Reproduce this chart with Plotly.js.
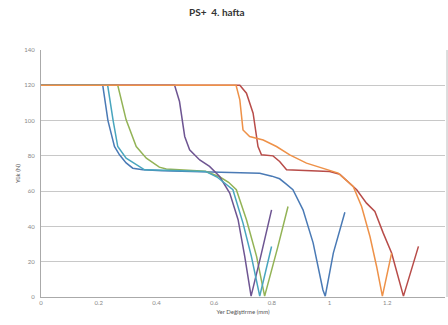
<!DOCTYPE html>
<html>
<head>
<meta charset="utf-8">
<script src="https://cdn.plot.ly/plotly-3.0.1.min.js"></script>
<style>
  html, body { margin: 0; padding: 0; background: #fff; }
  #chart { width: 448px; height: 325px; }
</style>
</head>
<body>
<div id="chart"></div>
<script>
// Load vs. displacement curves, one per specimen
const xBlue   = [0, 0.214, 0.232, 0.2545, 0.272, 0.295, 0.318, 0.353, 0.42, 0.5, 0.6, 0.7, 0.758, 0.8, 0.827, 0.85, 0.873, 0.908, 0.943, 0.977, 0.985, 1.013, 1.053];
const yBlue   = [120, 120, 100, 85.3, 80.6, 76, 73, 72.1, 71.6, 71.2, 71, 70.6, 70.2, 68.5, 67, 64, 60.8, 49.4, 30.7, 4, 0.5, 24.9, 48];

const xRed    = [0, 0.689, 0.712, 0.735, 0.752, 0.764, 0.804, 0.827, 0.851, 0.908, 1.0, 1.036, 1.094, 1.128, 1.157, 1.186, 1.215, 1.256, 1.308];
const yRed    = [120, 120, 115.5, 104.2, 85.3, 80.6, 80, 76.8, 72.1, 71.7, 71.1, 69.5, 60.8, 53.2, 48.5, 36.2, 24.9, 0.5, 28.7];

const xGreen  = [0, 0.266, 0.295, 0.33, 0.365, 0.41, 0.434, 0.5, 0.57, 0.62, 0.65, 0.677, 0.712, 0.747, 0.775, 0.82, 0.856];
const yGreen  = [120, 120, 100.4, 85.3, 78.7, 73.6, 72.5, 71.8, 71.3, 68, 65, 60.8, 43.8, 23, 0.5, 28, 51.3];

const xPurple = [0, 0.463, 0.48, 0.498, 0.515, 0.55, 0.584, 0.619, 0.654, 0.683, 0.706, 0.728, 0.76, 0.799];
const yPurple = [120, 120, 110.8, 91, 83.4, 77.7, 74, 68.3, 58.9, 43.8, 23, 0.5, 22, 49.4];

const xAqua   = [0, 0.231, 0.25, 0.266, 0.295, 0.341, 0.359, 0.43, 0.5, 0.57, 0.61, 0.64, 0.665, 0.7, 0.729, 0.758, 0.78, 0.799];
const yAqua   = [120, 120, 100, 85.3, 78.7, 73.6, 72.1, 71.8, 71.6, 71.2, 68, 64, 60.8, 41.9, 23, 0.5, 15, 28.6];

const xOrange = [0, 0.676, 0.689, 0.7, 0.723, 0.77, 0.816, 0.862, 0.92, 0.978, 1.03, 1.082, 1.111, 1.14, 1.163, 1.183, 1.215];
const yOrange = [120, 120, 111.7, 94.7, 91, 89, 85.3, 80.6, 75.9, 73, 70.2, 62.6, 51.3, 34.3, 17.3, 0.5, 24.9];

const xTickVals  = [0, 0.2, 0.4, 0.6, 0.8, 1, 1.2, 1.4];
const xTickText  = ['0', '0.2', '0.4', '0.6', '0.8', '1', '1.2', '1.4'];
const yTickVals  = [0, 20, 40, 60, 80, 100, 120, 140];

const series = [
  [xBlue, yBlue, '#4A7AB5'],
  [xRed, yRed, '#B84C49'],
  [xGreen, yGreen, '#93B356'],
  [xPurple, yPurple, '#6E5592'],
  [xAqua, yAqua, '#48A5BE'],
  [xOrange, yOrange, '#EE9148']
];

const traces = series.map(([x, y, c]) => ({
  x: x, y: y, type: 'scatter', mode: 'lines',
  line: { color: c, width: 1.5 },
  hoverinfo: 'skip', showlegend: false
}));

const tickFont = { family: 'Lato, sans-serif', size: 6, color: '#888' };

const layout = {
  width: 448, height: 325,
  margin: { l: 41, r: 3, t: 50, b: 28 },
  paper_bgcolor: '#fff', plot_bgcolor: '#fff',
  title: {
    text: '<b>PS+  4. hafta</b>',
    font: { family: 'Lato, sans-serif', size: 10, color: '#333' },
    x: 0.484, xanchor: 'center', xref: 'container',
    y: 0.962, yanchor: 'middle', yref: 'container'
  },
  xaxis: {
    range: [0, 1.4], tickvals: xTickVals, ticktext: xTickText,
    showgrid: false, zeroline: false,
    showline: true, linecolor: '#aaa', linewidth: 1,
    ticks: '', tickfont: tickFont,
    title: { text: 'Yer Değiştirme (mm)', font: { family: 'Lato, sans-serif', size: 6, color: '#555' }, standoff: 4 },
    automargin: false
  },
  yaxis: {
    range: [0, 140], tickvals: yTickVals,
    showgrid: true, gridcolor: '#c8c8c8', gridwidth: 1,
    zeroline: false, showline: true, linecolor: '#aaa', linewidth: 1,
    ticks: '', tickfont: tickFont, ticklabelstandoff: 4,
    title: { text: 'Yük (N)', font: { family: 'Lato, sans-serif', size: 6, color: '#555' }, standoff: 3 },
    automargin: false
  },
  shapes: [{
    type: 'line', xref: 'paper', yref: 'paper',
    x0: 1.005, x1: 1.005, y0: 0, y1: 1,
    line: { color: '#bbb', width: 1 }
  }]
};

Plotly.newPlot('chart', traces, layout, { staticPlot: true, displayModeBar: false });
</script>
</body>
</html>
